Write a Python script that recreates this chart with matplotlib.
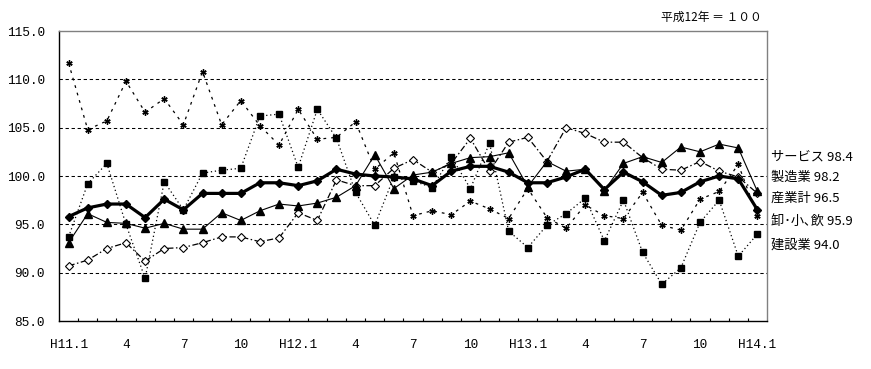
import matplotlib
matplotlib.use('Agg')
import matplotlib.pyplot as plt
import matplotlib.transforms as mtransforms
import numpy as np

# ---- data ----
tick_labels = ['H11.1', '4', '7', '10', 'H12.1', '4', '7', '10',
               'H13.1', '4', '7', '10', 'H14.1']
series_names = ['サービス', '製造業', '産業計', '卸･小､飲', '建設業']

sangyo = [95.8, 96.7, 97.1, 97.1, 95.7, 97.6, 96.5, 98.2, 98.2, 98.2,
          99.3, 99.3, 99.0, 99.5, 100.7, 100.2, 100.0, 99.9, 99.7, 99.0,
          100.5, 101.0, 101.0, 100.4, 99.3, 99.3, 99.9, 100.7, 98.6, 100.4,
          99.4, 98.0, 98.3, 99.4, 100.0, 99.7, 96.5]
service = [93.1, 96.1, 95.2, 95.1, 94.6, 95.1, 94.5, 94.5, 96.2, 95.4,
           96.4, 97.1, 96.9, 97.2, 97.8, 99.0, 102.2, 98.7, 100.1, 100.4,
           101.3, 101.9, 102.0, 102.4, 98.9, 101.5, 100.5, 100.7, 98.5, 101.3,
           102.0, 101.4, 103.0, 102.5, 103.3, 102.9, 98.4]
manufacturing = [90.7, 91.3, 92.5, 93.1, 91.2, 92.5, 92.6, 93.1, 93.7, 93.7,
                 93.2, 93.6, 96.2, 95.4, 99.6, 99.0, 99.0, 100.8, 101.7, 100.4,
                 101.3, 103.9, 100.5, 103.5, 104.0, 101.5, 105.0, 104.4, 103.5, 103.5,
                 101.9, 100.7, 100.6, 101.5, 100.5, 99.9, 98.2]
wholesale = [111.7, 104.8, 105.7, 109.8, 106.6, 108.0, 105.3, 110.8, 105.3, 107.8,
             105.2, 103.2, 106.9, 103.8, 104.0, 105.6, 100.7, 102.4, 95.9, 96.4,
             96.0, 97.4, 96.6, 95.6, 98.7, 95.7, 94.6, 97.0, 95.9, 95.6,
             98.3, 94.9, 94.4, 97.6, 98.4, 101.2, 95.9]
construction = [93.7, 99.2, 101.3, 95.0, 89.4, 99.4, 96.5, 100.3, 100.6, 100.8,
                106.2, 106.4, 100.9, 106.9, 103.9, 98.3, 94.9, 99.9, 99.5, 98.8,
                102.0, 98.7, 103.4, 94.3, 92.6, 94.9, 96.1, 97.7, 93.3, 97.5,
                92.1, 88.8, 90.5, 95.2, 97.5, 91.7, 94.0]

plt.rcParams['font.family'] = ['Noto Sans CJK JP', 'DejaVu Sans']

W, H = 871, 369
fig = plt.figure(figsize=(W / 100, H / 100), dpi=100)
ax = fig.add_axes([59 / W, 1 - 321 / H, (767 - 59) / W, (321 - 31) / H])

n = len(sangyo)
x = np.arange(n)

# gridlines
for gy in [90, 95, 100, 105, 110]:
    ax.axhline(gy, color='black', lw=0.75, ls=(0, (3.2, 2.6)), zorder=1)

# series
ax.plot(x, construction, color='black', lw=0.9, ls=(0, (1, 2.2)),
        marker='s', ms=4.8, mfc='black', mec='black', zorder=3)
ax.plot(x, wholesale, color='black', lw=0.9, ls=(0, (2.2, 4.0)),
        marker=(6, 2, 0), ms=4.5, mew=1.0, mec='black', zorder=3)
ax.plot(x, manufacturing, color='black', lw=0.9, ls=(0, (5, 2, 1.2, 2)),
        marker='D', ms=4.2, mfc='white', mec='black', mew=0.8, zorder=4)
ax.plot(x, service, color='black', lw=0.8, ls='-',
        marker='^', ms=5.5, mfc='black', mec='black', zorder=4)
ax.plot(x, sangyo, color='black', lw=2.3, ls='-',
        marker='D', ms=3.8, mfc='black', mec='black', zorder=5)

ax.set_xlim(-0.5, n - 0.5)
ax.set_ylim(85, 115)

# axes styling
for side in ['left', 'bottom']:
    ax.spines[side].set_color('black')
    ax.spines[side].set_linewidth(1.0)
for side in ['top', 'right']:
    ax.spines[side].set_color('#808080')
    ax.spines[side].set_linewidth(1.0)

ax.set_yticks([85, 90, 95, 100, 105, 110, 115])
ax.set_yticklabels([f'{v:.1f}' for v in [85, 90, 95, 100, 105, 110, 115]],
                   family=['Liberation Mono', 'DejaVu Sans Mono'], fontsize=9.2)
ax.tick_params(axis='y', length=0, pad=10)

ax.set_xticks(np.arange(0, n, 3))
ax.set_xticklabels(tick_labels, family=['Liberation Mono', 'DejaVu Sans Mono'],
                   fontsize=9.2)
ax.set_xticks(np.arange(0.5, n - 1, 1), minor=True)
ax.tick_params(axis='x', which='major', length=0, pad=13)
ax.tick_params(axis='x', which='minor', direction='in', length=2.5,
               width=0.8, color='black')

# series labels at right
trans = mtransforms.blended_transform_factory(ax.transAxes, ax.transData)
label_y = [102.0, 99.9, 97.65, 95.2, 92.8]
label_vals = [service[-1], manufacturing[-1], sangyo[-1], wholesale[-1], construction[-1]]
for name, val, yy in zip(series_names, label_vals, label_y):
    ax.text(1.005, yy, f'{name} {val:.1f}', transform=trans, ha='left',
            va='center', fontsize=9.5, clip_on=False)

fig.text(762 / W, 1 - 17 / H, '平成12年 ＝ １００', ha='right', va='center',
         fontsize=8.5)

fig.savefig('out.png', dpi=100)
